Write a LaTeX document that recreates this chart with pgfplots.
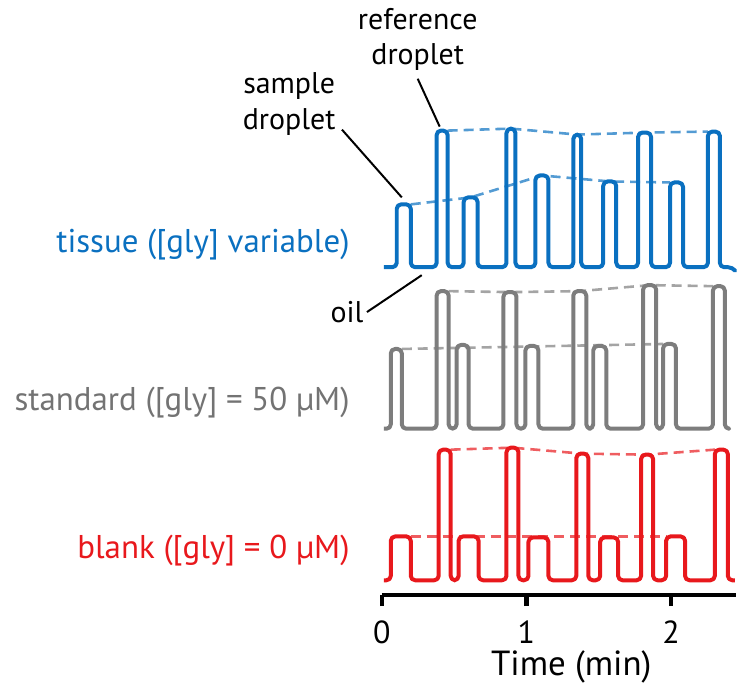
\documentclass[border=0pt]{standalone}
\usepackage{pgfplots}
\pgfplotsset{compat=1.18}
\usepackage{fontspec}
\setmainfont{PT Sans}
\definecolor{tblue}{RGB}{10,112,192}
\definecolor{tgray}{RGB}{125,125,125}
\definecolor{tred}{RGB}{232,24,28}
\definecolor{txtgray}{RGB}{115,115,115}
\begin{document}
\begin{tikzpicture}
\begin{axis}[
  scale only axis, width=177.5pt, height=298.5pt,
  xmin=0, xmax=2.448, ymin=92, ymax=689,
  axis x line*=bottom, axis y line=none,
  x axis line style={line width=2.2pt, black},
  xtick={0,1,2}, minor xtick={}, tick align=outside, major tick length=5.5pt,
  xtick style={line width=2.2pt, black},
  /pgf/number format/assume math mode=true,
  xticklabel style={font=\fontsize{16}{19}\selectfont, anchor=north, yshift=-4pt},
  clip=false,
  trace/.style={line width=2pt, rounded corners=2.2pt, line join=round},
  guide/.style={line width=1.3pt, dash pattern=on 5pt off 3pt, opacity=0.7},
]
% invisible frame giving the picture its extent
\path (axis cs:-2.641,0) rectangle (axis cs:2.448,689);

% dashed guides
\addplot[guide, tblue] coordinates {(0.455,558) (0.893,560) (1.352,554) (1.817,556) (2.255,557)};
\addplot[guide, tblue] coordinates {(0.200,484) (0.614,491) (1.107,513) (1.576,507) (1.993,506)};
\addplot[guide, tgray] coordinates {(0.462,397) (0.886,396) (1.369,397) (1.852,403) (2.290,402)};
\addplot[guide, tgray] coordinates {(0.138,339) (1.945,344)};
\addplot[guide, tred] coordinates {(0.476,238) (0.903,240) (1.386,234) (1.834,233) (2.303,238)};
\addplot[guide, tred] coordinates {(0.200,151) (1.966,151)};

% tissue trace
\addplot[trace, tblue] coordinates {
(0.014,421) (0.103,421) (0.103,484) (0.200,484) (0.200,421)
(0.379,421) (0.379,558) (0.455,558) (0.455,421)
(0.566,421) (0.566,491) (0.662,491) (0.662,421)
(0.862,421) (0.862,560) (0.924,560) (0.924,421)
(1.062,421) (1.062,513) (1.152,513) (1.152,421)
(1.324,421) (1.324,554) (1.379,554) (1.379,421)
(1.531,421) (1.531,507) (1.621,507) (1.621,421)
(1.772,421) (1.772,556) (1.862,556) (1.862,421)
(1.993,421) (1.993,506) (2.083,506) (2.083,421)
(2.255,421) (2.255,557) (2.338,557) (2.338,421)
(2.425,421) (2.441,418)};

% standard trace
\addplot[trace, tgray] coordinates {
(0.014,259) (0.062,259) (0.062,339) (0.138,339) (0.138,259)
(0.379,259) (0.379,397) (0.462,397) (0.462,259)
(0.517,259) (0.517,343) (0.600,343) (0.600,259)
(0.841,259) (0.841,396) (0.931,396) (0.931,259)
(0.993,259) (0.993,342) (1.083,342) (1.083,259)
(1.324,259) (1.324,397) (1.414,397) (1.414,259)
(1.462,259) (1.462,342) (1.552,342) (1.552,259)
(1.807,259) (1.807,403) (1.897,403) (1.897,259)
(1.945,259) (1.945,344) (2.034,344) (2.034,259)
(2.290,259) (2.290,402) (2.372,402) (2.372,259)
(2.393,259)};

% blank trace
\addplot[trace, tred] coordinates {
(0.014,107) (0.062,107) (0.062,151) (0.200,151) (0.200,107)
(0.393,107) (0.393,238) (0.476,238) (0.476,107)
(0.531,107) (0.531,151) (0.669,151) (0.669,107)
(0.862,107) (0.862,240) (0.945,240) (0.945,107)
(1.014,107) (1.014,150) (1.152,150) (1.152,107)
(1.345,107) (1.345,234) (1.428,234) (1.428,107)
(1.510,107) (1.510,150) (1.634,150) (1.634,107)
(1.793,107) (1.793,233) (1.876,233) (1.876,107)
(1.966,107) (1.966,151) (2.097,151) (2.097,107)
(2.303,107) (2.303,238) (2.393,238) (2.393,107)
(2.441,107)};

% axis title
\node[anchor=base, font=\fontsize{17.5}{21}\selectfont, inner sep=0pt] at (axis cs:1.31,11) {Time (min)};

% labels
\node[anchor=base east, text=tblue, font=\fontsize{16.5}{19}\selectfont, inner sep=0pt] at (axis cs:-0.221,436) {tissue ([gly] variable)};
\node[anchor=base east, text=txtgray, font=\fontsize{16.5}{19}\selectfont, inner sep=0pt] at (axis cs:-0.221,277) {standard ([gly] = 50 µM)};
\node[anchor=base east, text=tred, font=\fontsize{16.5}{19}\selectfont, inner sep=0pt] at (axis cs:-0.221,129) {blank ([gly] = 0 µM)};

\node[anchor=base, font=\fontsize{15}{18}\selectfont, inner sep=0pt] at (axis cs:-0.641,595) {sample};
\node[anchor=base, font=\fontsize{15}{18}\selectfont, inner sep=0pt] at (axis cs:-0.641,559) {droplet};
\node[anchor=base, font=\fontsize{15}{18}\selectfont, inner sep=0pt] at (axis cs:0.248,659) {reference};
\node[anchor=base, font=\fontsize{15}{18}\selectfont, inner sep=0pt] at (axis cs:0.248,624) {droplet};
\node[anchor=base, font=\fontsize{15}{18}\selectfont, inner sep=0pt] at (axis cs:-0.241,366) {oil};

\draw[line width=1pt] (axis cs:-0.276,559) -- (axis cs:0.138,491);
\draw[line width=1pt] (axis cs:0.248,610) -- (axis cs:0.400,562);
\draw[line width=1pt] (axis cs:-0.103,376) -- (axis cs:0.276,413);
\end{axis}
\end{tikzpicture}
\end{document}
